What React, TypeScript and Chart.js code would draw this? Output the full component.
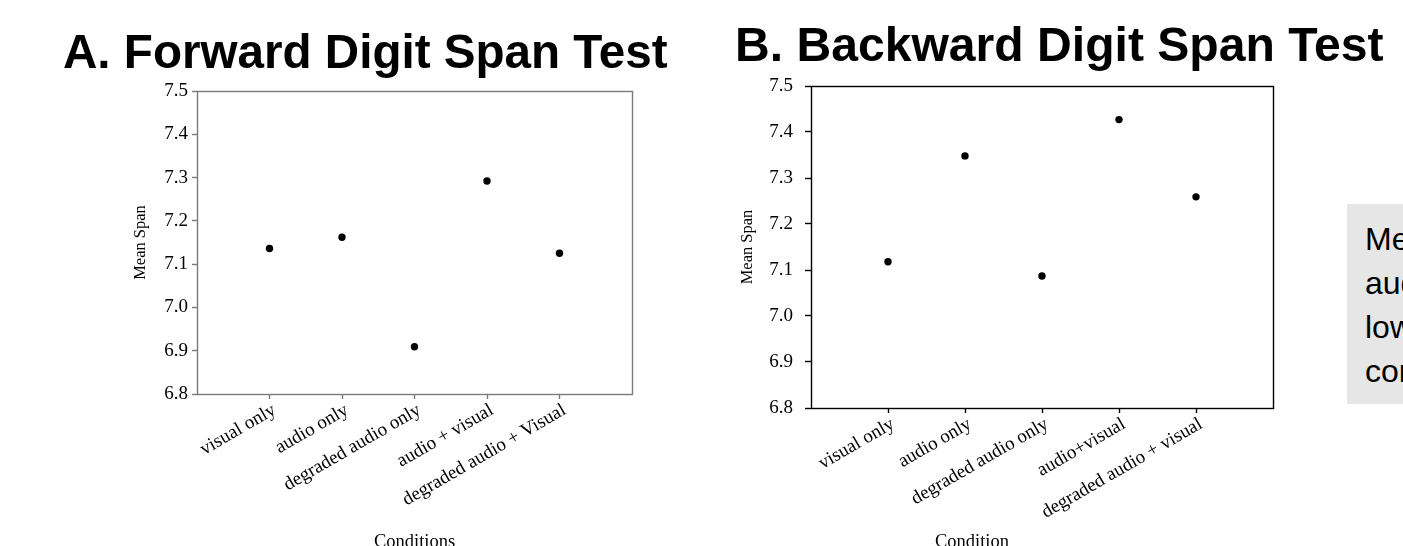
import React, { useEffect, useRef } from 'react';
import { Chart, registerables } from 'chart.js';

Chart.register(...registerables);

// ---------- data ----------
const conditionsA = ['visual only', 'audio only', 'degraded audio only', 'audio + visual', 'degraded audio + Visual'];
const meanSpanA = [7.136, 7.162, 6.909, 7.292, 7.125];

const conditionsB = ['visual only', 'audio only', 'degraded audio only', 'audio+visual', 'degraded audio + visual'];
const meanSpanB = [7.118, 7.348, 7.087, 7.427, 7.259];

const yTickValues = [6.8, 6.9, 7.0, 7.1, 7.2, 7.3, 7.4, 7.5];

const titleA = 'A. Forward Digit Span Test';
const titleB = 'B. Backward Digit Span Test';
const yTitle = 'Mean Span';
const xTitleA = 'Conditions';
const xTitleB = 'Condition';
const noteLines = ['Mean span', 'audio only', 'lower than', 'conditions'];

const SERIF = '"Liberation Serif", "Times New Roman", serif';
const SANS = '"Liberation Sans", Arial, sans-serif';

type Txt = { text: string; x: number; y: number; font: string; align?: CanvasTextAlign; baseline?: CanvasTextBaseline; rotate?: number };

const framePlugin = {
  id: 'frame',
  afterDraw(chart: any, _args: any, o: any) {
    const { ctx, chartArea: a } = chart;
    ctx.save();
    ctx.strokeStyle = o.color;
    ctx.lineWidth = o.width;
    ctx.strokeRect(Math.round(a.left) + 0.5, Math.round(a.top) + 0.5, Math.round(a.right - a.left), Math.round(a.bottom - a.top));
    ctx.restore();
  },
};

const textPlugin = {
  id: 'texts',
  afterDraw(chart: any, _args: any, o: any) {
    const { ctx, chartArea: a } = chart;
    const items: Txt[] = o.items(a);
    ctx.save();
    ctx.fillStyle = '#000';
    for (const t of items) {
      ctx.save();
      ctx.font = t.font;
      ctx.textAlign = t.align || 'left';
      ctx.textBaseline = t.baseline || 'alphabetic';
      ctx.translate(t.x, t.y);
      if (t.rotate) ctx.rotate(t.rotate);
      ctx.fillText(t.text, 0, 0);
      ctx.restore();
    }
    ctx.restore();
  },
};

type Opts = {
  labels: string[];
  values: number[];
  axisColor: string;
  padding: { left: number; top: number; right: number; bottom: number };
  yWidth: number;
  xHeight: number;
  yTickLen: number;
  yTickPad: number;
  tickFont: number;
  catFont: number;
  texts: (a: any) => Txt[];
};

function makeConfig(o: Opts): any {
  return {
    type: 'scatter',
    data: {
      datasets: [
        {
          data: o.values.map((v, i) => ({ x: i + 1, y: v })),
          backgroundColor: '#000',
          borderColor: '#000',
          pointRadius: 3.7,
          pointBorderWidth: 0,
        },
      ],
    },
    options: {
      responsive: false,
      animation: false,
      devicePixelRatio: 1,
      layout: { padding: o.padding },
      plugins: {
        legend: { display: false },
        tooltip: { enabled: false },
        title: { display: false },
        frame: { color: o.axisColor, width: 1.4 },
        texts: { items: o.texts },
      },
      scales: {
        x: {
          type: 'linear',
          min: 0,
          max: o.labels.length + 1,
          afterBuildTicks: (s: any) => {
            s.ticks = o.labels.map((_, i) => ({ value: i + 1 }));
          },
          afterFit: (s: any) => {
            s.height = o.xHeight;
          },
          ticks: {
            autoSkip: false,
            minRotation: 30,
            maxRotation: 30,
            padding: 0,
            labelOffset: 5,
            color: '#000',
            font: { family: SERIF, size: o.catFont },
            callback: (v: any) => o.labels[Math.round(v) - 1] ?? '',
          },
          grid: { drawOnChartArea: false, drawTicks: true, tickLength: 5, tickColor: o.axisColor, tickWidth: 1.4 },
          border: { display: false },
        },
        y: {
          min: 6.8,
          max: 7.5,
          afterBuildTicks: (s: any) => {
            s.ticks = yTickValues.map((v) => ({ value: v }));
          },
          afterFit: (s: any) => {
            s.width = o.yWidth;
          },
          ticks: {
            padding: o.yTickPad,
            color: '#000',
            font: { family: SERIF, size: o.tickFont },
            callback: (v: any) => Number(v).toFixed(1),
          },
          grid: { drawOnChartArea: false, drawTicks: true, tickLength: o.yTickLen, tickColor: o.axisColor, tickWidth: 1.4 },
          border: { display: false },
        },
      },
    },
    plugins: [framePlugin, textPlugin],
  };
}

function ChartCanvas({ config, width, height, left }: { config: any; width: number; height: number; left: number }) {
  const ref = useRef<HTMLCanvasElement | null>(null);
  useEffect(() => {
    if (!ref.current) return;
    const chart = new Chart(ref.current, config);
    return () => chart.destroy();
  }, [config]);
  return (
    <canvas
      ref={ref}
      width={width}
      height={height}
      style={{ position: 'absolute', left, top: 0, width, height }}
    />
  );
}

const configA = makeConfig({
  labels: conditionsA,
  values: meanSpanA,
  axisColor: '#7a7a7a',
  padding: { left: 0, top: 91, right: 68, bottom: 22 },
  yWidth: 197,
  xHeight: 130,
  yTickLen: 5,
  yTickPad: 4,
  tickFont: 19,
  catFont: 19,
  texts: (a: any) => [
    { text: titleA, x: 63, y: 68, font: `bold 47.6px ${SANS}` },
    { text: yTitle, x: a.left - 56, y: (a.top + a.bottom) / 2, font: `16.5px ${SERIF}`, align: 'center', baseline: 'middle', rotate: -Math.PI / 2 },
    { text: xTitleA, x: (a.left + a.right) / 2, y: 547, font: `18.5px ${SERIF}`, align: 'center' },
  ],
});

const configB = makeConfig({
  labels: conditionsB,
  values: meanSpanB,
  axisColor: '#000',
  padding: { left: 0, top: 86, right: 130, bottom: 8 },
  yWidth: 111,
  xHeight: 130,
  yTickLen: 6,
  yTickPad: 12,
  tickFont: 19,
  catFont: 19,
  texts: (a: any) => [
    { text: titleB, x: 35, y: 61, font: `bold 48.1px ${SANS}` },
    { text: yTitle, x: a.left - 63, y: (a.top + a.bottom) / 2, font: `16.5px ${SERIF}`, align: 'center', baseline: 'middle', rotate: -Math.PI / 2 },
    { text: xTitleB, x: 272, y: 547, font: `18.5px ${SERIF}`, align: 'center' },
  ],
});

export default function App() {
  return (
    <div
      style={{
        position: 'fixed',
        left: 0,
        top: 0,
        width: 1403,
        height: 546,
        overflow: 'hidden',
        background: '#fff',
      }}
    >
      <ChartCanvas config={configA} width={700} height={546} left={0} />
      <ChartCanvas config={configB} width={703} height={546} left={700} />
      <div
        style={{
          position: 'absolute',
          left: 1347,
          top: 204,
          width: 200,
          height: 200,
          background: '#e6e6e6',
          paddingTop: 13,
          paddingLeft: 18,
          boxSizing: 'border-box',
          fontFamily: SANS,
          fontSize: 32,
          lineHeight: '44px',
          color: '#000',
          whiteSpace: 'nowrap',
        }}
      >
        {noteLines.map((l, i) => (
          <div key={i}>{l}</div>
        ))}
      </div>
    </div>
  );
}
